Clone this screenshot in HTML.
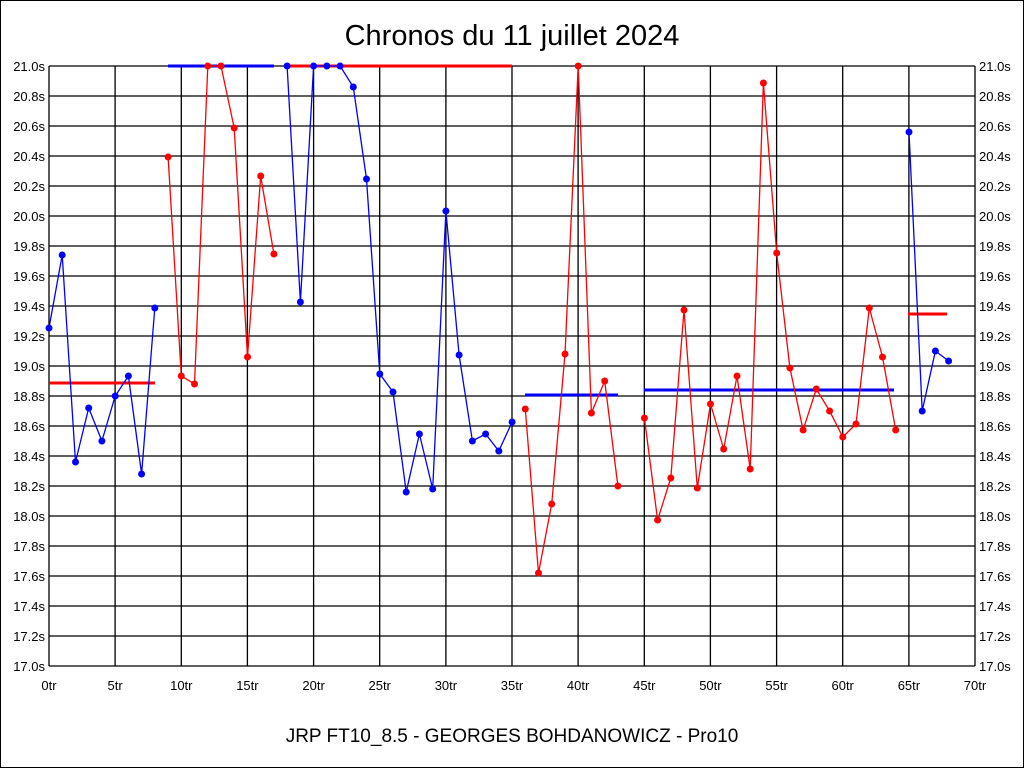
<!DOCTYPE html>
<html><head><meta charset="utf-8"><style>
html,body{margin:0;padding:0;background:#fff}
svg{display:block}
text{font-family:"Liberation Sans",sans-serif;fill:#000}
</style></head><body>
<svg width="1024" height="768" viewBox="0 0 1024 768" xmlns="http://www.w3.org/2000/svg">
<rect x="0.5" y="0.5" width="1023" height="767" fill="#fff" stroke="#000"/>
<text x="512" y="45" font-size="29" text-anchor="middle">Chronos du 11 juillet 2024</text>
<text x="512" y="742" font-size="19" text-anchor="middle">JRP FT10_8.5 - GEORGES BOHDANOWICZ - Pro10</text>
<g stroke="#000" stroke-width="1.3" fill="none">
<path d="M49 66H975M49 96H975M49 126H975M49 156H975M49 186H975M49 216H975M49 246H975M49 276H975M49 306H975M49 336H975M49 366H975M49 396H975M49 426H975M49 456H975M49 486H975M49 516H975M49 546H975M49 576H975M49 606H975M49 636H975M49 666H975"/>
<path d="M49 66V666M115.1 66V666M181.3 66V666M247.4 66V666M313.6 66V666M379.7 66V666M445.9 66V666M512 66V666M578.1 66V666M644.3 66V666M710.4 66V666M776.6 66V666M842.7 66V666M908.9 66V666M975 66V666"/>
</g>
<g font-size="13" text-anchor="end">
<text x="45" y="71">21.0s</text><text x="45" y="101">20.8s</text><text x="45" y="131">20.6s</text><text x="45" y="161">20.4s</text><text x="45" y="191">20.2s</text><text x="45" y="221">20.0s</text><text x="45" y="251">19.8s</text><text x="45" y="281">19.6s</text><text x="45" y="311">19.4s</text><text x="45" y="341">19.2s</text><text x="45" y="371">19.0s</text><text x="45" y="401">18.8s</text><text x="45" y="431">18.6s</text><text x="45" y="461">18.4s</text><text x="45" y="491">18.2s</text><text x="45" y="521">18.0s</text><text x="45" y="551">17.8s</text><text x="45" y="581">17.6s</text><text x="45" y="611">17.4s</text><text x="45" y="641">17.2s</text><text x="45" y="671">17.0s</text>
</g>
<g font-size="13">
<text x="979" y="71">21.0s</text><text x="979" y="101">20.8s</text><text x="979" y="131">20.6s</text><text x="979" y="161">20.4s</text><text x="979" y="191">20.2s</text><text x="979" y="221">20.0s</text><text x="979" y="251">19.8s</text><text x="979" y="281">19.6s</text><text x="979" y="311">19.4s</text><text x="979" y="341">19.2s</text><text x="979" y="371">19.0s</text><text x="979" y="401">18.8s</text><text x="979" y="431">18.6s</text><text x="979" y="461">18.4s</text><text x="979" y="491">18.2s</text><text x="979" y="521">18.0s</text><text x="979" y="551">17.8s</text><text x="979" y="581">17.6s</text><text x="979" y="611">17.4s</text><text x="979" y="641">17.2s</text><text x="979" y="671">17.0s</text>
</g>
<g font-size="13" text-anchor="middle">
<text x="49" y="690">0tr</text><text x="115.1" y="690">5tr</text><text x="181.3" y="690">10tr</text><text x="247.4" y="690">15tr</text><text x="313.6" y="690">20tr</text><text x="379.7" y="690">25tr</text><text x="445.9" y="690">30tr</text><text x="512" y="690">35tr</text><text x="578.1" y="690">40tr</text><text x="644.3" y="690">45tr</text><text x="710.4" y="690">50tr</text><text x="776.6" y="690">55tr</text><text x="842.7" y="690">60tr</text><text x="908.9" y="690">65tr</text><text x="975" y="690">70tr</text>
</g>
<g stroke-width="3">
<line x1="49" y1="383" x2="155" y2="383" stroke="#f00"/>
<line x1="168" y1="66" x2="274" y2="66" stroke="#00f"/>
<line x1="287" y1="66" x2="512" y2="66" stroke="#f00"/>
<line x1="525" y1="395" x2="618" y2="395" stroke="#00f"/>
<line x1="644" y1="390" x2="894" y2="390" stroke="#00f"/>
<line x1="908" y1="314" x2="947" y2="314" stroke="#f00"/>
</g>
<g fill="none" stroke-width="1.3">
<polyline stroke="#00f" points="49,328 62.2,255 75.5,462 88.7,408 101.9,441 115.2,396 128.4,376 141.6,474 154.8,308"/>
<polyline stroke="#f00" points="168.1,157 181.3,376 194.5,384 207.8,66 221,66 234.2,128 247.5,357 260.7,176 273.9,254"/>
<polyline stroke="#00f" points="287.1,66 300.4,302 313.6,66 326.8,66 340.1,66 353.3,87 366.5,179 379.8,374 393,392 406.2,492 419.4,434 432.7,489 445.9,211 459.1,355 472.4,441 485.6,434 498.8,451 512.1,422"/>
<polyline stroke="#f00" points="525.3,409 538.5,573 551.7,504 565,354 578.2,66 591.4,413 604.7,381 617.9,486"/>
<polyline stroke="#f00" points="644.4,418 657.6,520 670.8,478 684,310 697.3,488 710.5,404 723.7,449 737,376 750.2,469 763.4,83 776.7,253 789.9,368 803.1,430 816.3,389 829.6,411 842.8,437 856,424 869.3,308 882.5,357 895.7,430"/>
<polyline stroke="#00f" points="909,132 922.2,411 935.4,351 948.6,361"/>
</g>
<g fill="#00f">
<circle cx="49" cy="328" r="3.5"/><circle cx="62.2" cy="255" r="3.5"/><circle cx="75.5" cy="462" r="3.5"/><circle cx="88.7" cy="408" r="3.5"/><circle cx="101.9" cy="441" r="3.5"/><circle cx="115.2" cy="396" r="3.5"/><circle cx="128.4" cy="376" r="3.5"/><circle cx="141.6" cy="474" r="3.5"/><circle cx="154.8" cy="308" r="3.5"/>
<circle cx="287.1" cy="66" r="3.5"/><circle cx="300.4" cy="302" r="3.5"/><circle cx="313.6" cy="66" r="3.5"/><circle cx="326.8" cy="66" r="3.5"/><circle cx="340.1" cy="66" r="3.5"/><circle cx="353.3" cy="87" r="3.5"/><circle cx="366.5" cy="179" r="3.5"/><circle cx="379.8" cy="374" r="3.5"/><circle cx="393" cy="392" r="3.5"/><circle cx="406.2" cy="492" r="3.5"/><circle cx="419.4" cy="434" r="3.5"/><circle cx="432.7" cy="489" r="3.5"/><circle cx="445.9" cy="211" r="3.5"/><circle cx="459.1" cy="355" r="3.5"/><circle cx="472.4" cy="441" r="3.5"/><circle cx="485.6" cy="434" r="3.5"/><circle cx="498.8" cy="451" r="3.5"/><circle cx="512.1" cy="422" r="3.5"/>
<circle cx="909" cy="132" r="3.5"/><circle cx="922.2" cy="411" r="3.5"/><circle cx="935.4" cy="351" r="3.5"/><circle cx="948.6" cy="361" r="3.5"/>
</g>
<g fill="#f00">
<circle cx="168.1" cy="157" r="3.5"/><circle cx="181.3" cy="376" r="3.5"/><circle cx="194.5" cy="384" r="3.5"/><circle cx="207.8" cy="66" r="3.5"/><circle cx="221" cy="66" r="3.5"/><circle cx="234.2" cy="128" r="3.5"/><circle cx="247.5" cy="357" r="3.5"/><circle cx="260.7" cy="176" r="3.5"/><circle cx="273.9" cy="254" r="3.5"/>
<circle cx="525.3" cy="409" r="3.5"/><circle cx="538.5" cy="573" r="3.5"/><circle cx="551.7" cy="504" r="3.5"/><circle cx="565" cy="354" r="3.5"/><circle cx="578.2" cy="66" r="3.5"/><circle cx="591.4" cy="413" r="3.5"/><circle cx="604.7" cy="381" r="3.5"/><circle cx="617.9" cy="486" r="3.5"/>
<circle cx="644.4" cy="418" r="3.5"/><circle cx="657.6" cy="520" r="3.5"/><circle cx="670.8" cy="478" r="3.5"/><circle cx="684" cy="310" r="3.5"/><circle cx="697.3" cy="488" r="3.5"/><circle cx="710.5" cy="404" r="3.5"/><circle cx="723.7" cy="449" r="3.5"/><circle cx="737" cy="376" r="3.5"/><circle cx="750.2" cy="469" r="3.5"/><circle cx="763.4" cy="83" r="3.5"/><circle cx="776.7" cy="253" r="3.5"/><circle cx="789.9" cy="368" r="3.5"/><circle cx="803.1" cy="430" r="3.5"/><circle cx="816.3" cy="389" r="3.5"/><circle cx="829.6" cy="411" r="3.5"/><circle cx="842.8" cy="437" r="3.5"/><circle cx="856" cy="424" r="3.5"/><circle cx="869.3" cy="308" r="3.5"/><circle cx="882.5" cy="357" r="3.5"/><circle cx="895.7" cy="430" r="3.5"/>
</g>
</svg>
</body></html>
